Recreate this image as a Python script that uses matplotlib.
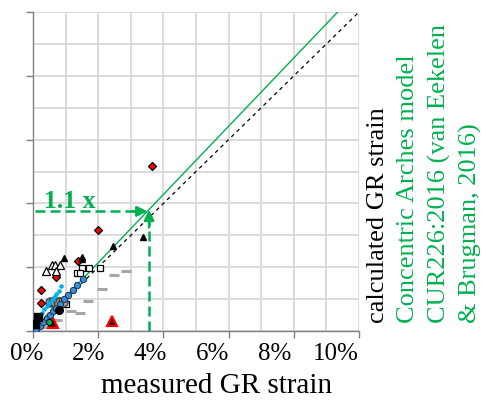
import numpy as np
import matplotlib
matplotlib.use('Agg')
import matplotlib.pyplot as plt

plt.rcParams['font.family'] = ['Liberation Serif', 'DejaVu Serif']

GREEN = '#00B050'

# ─── Data (strain in %) ───
red_diamond_x = [3.64, 1.98, 1.37, 0.71, 0.25, 0.24]
red_diamond_y = [5.16, 3.18, 2.20, 1.68, 1.29, 0.88]

black_tri_x = [3.36, 2.44, 0.96, 1.50, 1.50]
black_tri_y = [2.95, 2.65, 2.29, 2.33, 2.25]

open_tri_x = [0.40, 0.57, 0.67, 0.83, 0.72]
open_tri_y = [1.89, 2.08, 2.08, 2.08, 1.89]

open_sq_x = [1.50, 1.73, 2.06, 1.36, 1.45, 1.01]
open_sq_y = [1.97, 1.97, 1.97, 1.81, 1.81, 0.85]

grey_dash_x = [2.85, 2.48, 2.11, 1.68, 1.17, 1.44, 0.73, 0.32]
grey_dash_y = [1.89, 1.76, 1.32, 0.95, 0.64, 0.58, 0.35, 0.12]

red_tri_x = [2.41, 0.60]
red_tri_y = [0.30, 0.25]

black_sq_x = [0.06, 0.16]
black_sq_y = [0.22, 0.43]

black_circ_x = [0.81]
black_circ_y = [0.66]

green_circ_x = [0.48]
green_circ_y = [0.27]

grey_circ_x = [0.52, 0.60, 0.68, 0.76, 0.84, 0.92]
grey_circ_y = [0.90, 0.90, 0.90, 0.90, 0.90, 0.90]

light_blue_x = [0.21, 0.28, 0.35, 0.42, 0.50, 0.57, 0.64, 0.71, 0.79, 0.85]
light_blue_y = [0.48, 0.58, 0.68, 0.78, 0.88, 0.98, 1.08, 1.17, 1.27, 1.40]

gold_tri_x = [0.15, 0.30, 0.45, 0.60, 0.75, 0.90, 1.05, 1.20]
gold_tri_y = [0.20, 0.36, 0.52, 0.66, 0.82, 0.97, 1.12, 1.27]

blue_circ_x = [0.09, 0.20, 0.31, 0.42, 0.52, 0.62, 0.72, 0.84, 0.95, 1.06, 1.22, 1.36, 1.54]
blue_circ_y = [0.06, 0.17, 0.28, 0.40, 0.51, 0.62, 0.73, 0.86, 0.99, 1.13, 1.29, 1.45, 1.63]

x_tick_labels = ['0%', '2%', '4%', '6%', '8%', '10%']

# model line and read-off arrow
model_slope = 1.07
read_x = 3.56
read_y = 3.75

fig = plt.figure(figsize=(4.86, 4.02), dpi=100)
ax = fig.add_axes([0.0679, 0.1741, 0.6708, 0.7935])

ax.set_xlim(0, 10)
ax.set_ylim(0, 10)
ax.set_xticks(np.arange(0, 11, 2))
ax.set_xticklabels([])
ax.set_xticks(np.arange(0, 11, 1), minor=True)
ax.set_yticks(np.arange(0, 11, 2))
ax.set_yticklabels([])
ax.set_yticks(np.arange(0, 11, 1), minor=True)
ax.grid(True, which='both', color='#D9D9D9', linewidth=1.3, zorder=0)
ax.tick_params(which='major', length=5, color='#808080', width=1, pad=4)
ax.tick_params(which='minor', length=0)
for s in ['top', 'right']:
    ax.spines[s].set_visible(False)
for s in ['left', 'bottom']:
    ax.spines[s].set_color('#808080')
    ax.spines[s].set_linewidth(1)
ax.set_axisbelow(True)

# tick labels sit slightly tighter than the ticks in the original
for i, lab in enumerate(x_tick_labels):
    fig.text((27 + i * 61.8) / 486, 1 - 354 / 402, lab, fontsize=18, ha='center', va='center')

# 1:1 and model lines
ax.plot([0, 10], [0, 10], color='black', linestyle=(0, (3, 3)), linewidth=0.9, zorder=2)
ax.plot([0, 10 / model_slope], [0, 10], color=GREEN, linewidth=1.0, zorder=2)

# markers
kw = dict(linestyle='none', zorder=4)
ax.plot(grey_dash_x, grey_dash_y, marker='_', color='#A6A6A6', markersize=7, mew=2.2, **kw)
ax.plot(red_diamond_x, red_diamond_y, marker='D', mfc='red', mec='black', markersize=4.2, mew=0.9, **kw)
ax.plot(black_tri_x, black_tri_y, marker='^', color='black', markersize=5, **kw)
ax.plot(open_tri_x, open_tri_y, marker='^', mfc='white', mec='black', markersize=5.5, mew=0.9, **kw)
ax.plot(open_sq_x, open_sq_y, marker='s', mfc='white', mec='black', markersize=5, mew=0.9, **kw)
ax.plot(red_tri_x, red_tri_y, marker='^', mfc='#500000', mec='red', markersize=6.5, mew=1.5, **kw)
ax.plot(grey_circ_x, grey_circ_y, marker='o', mfc='#A6A6A6', mec='#404040', markersize=6.5, mew=1, **kw)
ax.plot(light_blue_x, light_blue_y, marker='o', color='#00B0F0', markersize=3.3, mew=0, **kw)
ax.plot(gold_tri_x, gold_tri_y, marker='^', color='#FFC000', markersize=4.5, mew=0, **kw)
ax.plot(blue_circ_x, blue_circ_y, marker='o', mfc='#3A8FD0', mec='#1F3864', markersize=4.5, mew=0.8, **kw)
ax.plot(black_sq_x, black_sq_y, marker='s', color='black', markersize=5.5, **kw)
ax.plot(black_circ_x, black_circ_y, marker='o', color='black', markersize=5.5, **kw)
ax.plot(green_circ_x, green_circ_y, marker='o', mfc=GREEN, mec='black', markersize=4.5, mew=0.8, **kw)

# read-off arrows
ax.plot([0.06, read_x - 0.2], [read_y, read_y], color=GREEN, linestyle=(0, (4, 2)), linewidth=1.8, zorder=5)
ax.plot([read_x, read_x], [0, read_y - 0.3], color=GREEN, linestyle=(0, (4, 2)), linewidth=1.8, zorder=5)
ax.annotate('', xy=(read_x - 0.05, read_y), xytext=(read_x - 0.5, read_y),
            arrowprops=dict(arrowstyle='-|>,head_length=0.6,head_width=0.3', color=GREEN, lw=1.8,
                            shrinkA=0, shrinkB=0), zorder=6)
ax.annotate('', xy=(read_x, read_y + 0.05), xytext=(read_x, read_y - 0.5),
            arrowprops=dict(arrowstyle='-|>,head_length=0.6,head_width=0.3', color=GREEN, lw=1.8,
                            shrinkA=0, shrinkB=0), zorder=6)
ax.text(0.35, 4.1, '1.1 x', color=GREEN, fontsize=18.5, fontweight='bold', ha='left', va='center')

fig.text(217 / 486, 1 - 386 / 402, 'measured GR strain', fontsize=21, ha='center', va='center')

# rotated axis title on the right
fig.text(378 / 486, 1 - 323 / 402, 'calculated GR strain', rotation=90, rotation_mode='anchor',
         ha='left', va='center', fontsize=19, color='black')
for xp, line in zip([408, 439, 470], ['Concentric Arches model', 'CUR226:2016 (van Eekelen', '& Brugman, 2016)']):
    fig.text(xp / 486, 1 - 323 / 402, line, rotation=90, rotation_mode='anchor',
             ha='left', va='center', fontsize=19, color=GREEN)

plt.savefig('out.png', dpi=100)
plt.close()
